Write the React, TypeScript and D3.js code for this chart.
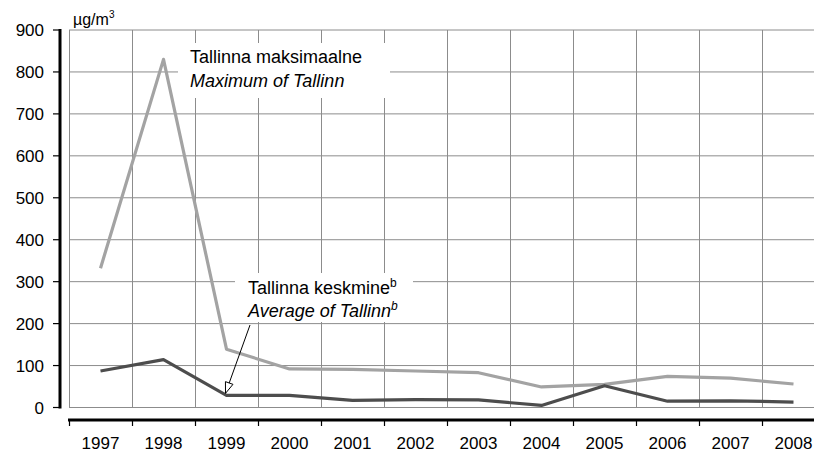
import React from "react";
import * as d3 from "d3";

const years = ["1997","1998","1999","2000","2001","2002","2003","2004","2005","2006","2007","2008"];
const maxValues = [332, 830, 139, 92, 91, 87, 83, 49, 55, 74, 70, 56];
const avgValues = [87, 114, 29, 29, 17, 19, 18, 5, 52, 15, 16, 13];
const yTicks = [0, 100, 200, 300, 400, 500, 600, 700, 800, 900];

const W = 814, H = 453;
const FONT = "Arial, 'Liberation Sans', Helvetica, sans-serif";

export default function App() {
  const x = d3.scaleBand<string>().domain(years).range([69, 69 + 63 * 12]).padding(0);
  const y = d3.scaleLinear().domain([0, 900]).range([407.5, 30]);
  const cx = (d: string) => (x(d) as number) + x.bandwidth() / 2;

  const lineGen = d3.line<number>().x((_, i) => cx(years[i])).y((v) => y(v));

  const plotLeft = 69;
  const axisY = 420;
  const arrowTip: [number, number] = [cx("1999") - 1, y(avgValues[2]) - 2];
  const arrowStart: [number, number] = [250, 325];
  const ang = Math.atan2(arrowTip[1] - arrowStart[1], arrowTip[0] - arrowStart[0]);
  const ahL = 11, ahW = 4;
  const bx = arrowTip[0] - ahL * Math.cos(ang), by = arrowTip[1] - ahL * Math.sin(ang);
  const p1 = [bx + ahW * Math.sin(ang), by - ahW * Math.cos(ang)];
  const p2 = [bx - ahW * Math.sin(ang), by + ahW * Math.cos(ang)];

  return (
    <svg width={W} height={H} style={{ position: "absolute", left: 0, top: 0, background: "#fff" }} fontFamily={FONT}>
      {/* horizontal grid */}
      {yTicks.map((t) => (
        <line key={"h" + t} x1={plotLeft} x2={W} y1={y(t)} y2={y(t)} stroke="#8c8c8c" strokeWidth={1} />
      ))}
      {/* vertical grid */}
      {years.map((yr) => (
        <line key={"v" + yr} x1={(x(yr) as number) + 0.5} x2={(x(yr) as number) + 0.5} y1={y(900)} y2={y(0)} stroke="#8c8c8c" strokeWidth={1} />
      ))}
      {/* label boxes */}
      <rect x={178} y={43} width={212} height={55} fill="#fff" />
      <rect x={235} y={273} width={178} height={49} fill="#fff" />

      {/* lines */}
      <path d={lineGen(maxValues) || ""} fill="none" stroke="#a3a3a3" strokeWidth={3.2} strokeLinejoin="round" />
      <path d={lineGen(avgValues) || ""} fill="none" stroke="#4d4d4d" strokeWidth={3.2} strokeLinejoin="round" />

      {/* y axis */}
      <line x1={60} x2={60} y1={y(900) - 1} y2={y(0) + 1} stroke="#000" strokeWidth={3} />
      {yTicks.map((t) => (
        <g key={"yt" + t}>
          <line x1={53} x2={60} y1={y(t)} y2={y(t)} stroke="#000" strokeWidth={1.2} />
          <text x={44} y={y(t)} dy="0.36em" textAnchor="end" fontSize={17} fill="#000">{t}</text>
        </g>
      ))}
      <text x={73} y={25} fontSize={16} fill="#000">µg/m<tspan dy={-7} fontSize={10}>3</tspan></text>

      {/* x axis */}
      <line x1={68} x2={W} y1={axisY} y2={axisY} stroke="#000" strokeWidth={3} />
      {years.map((yr) => (
        <g key={"xt" + yr}>
          <line x1={(x(yr) as number) + 0.5} x2={(x(yr) as number) + 0.5} y1={axisY} y2={axisY + 6} stroke="#000" strokeWidth={1.2} />
          <text x={cx(yr)} y={449} textAnchor="middle" fontSize={17} fill="#000">{yr}</text>
        </g>
      ))}

      {/* legend labels */}
      <text x={190} y={63} fontSize={18} fill="#000">Tallinna maksimaalne</text>
      <text x={190} y={86.5} fontSize={18} fontStyle="italic" fill="#000">Maximum of Tallinn</text>

      <text x={248} y={294} fontSize={18} fill="#000">Tallinna keskmine<tspan dy={-7} fontSize={12}>b</tspan></text>
      <text x={248} y={316.5} fontSize={18} fontStyle="italic" fill="#000">Average of Tallinn<tspan dy={-7} fontSize={12}>b</tspan></text>

      {/* arrow */}
      <line x1={arrowStart[0]} y1={arrowStart[1]} x2={bx} y2={by} stroke="#000" strokeWidth={1} />
      <polygon points={`${arrowTip[0]},${arrowTip[1]} ${p1[0]},${p1[1]} ${p2[0]},${p2[1]}`} fill="#fff" stroke="#000" strokeWidth={1} />
    </svg>
  );
}
